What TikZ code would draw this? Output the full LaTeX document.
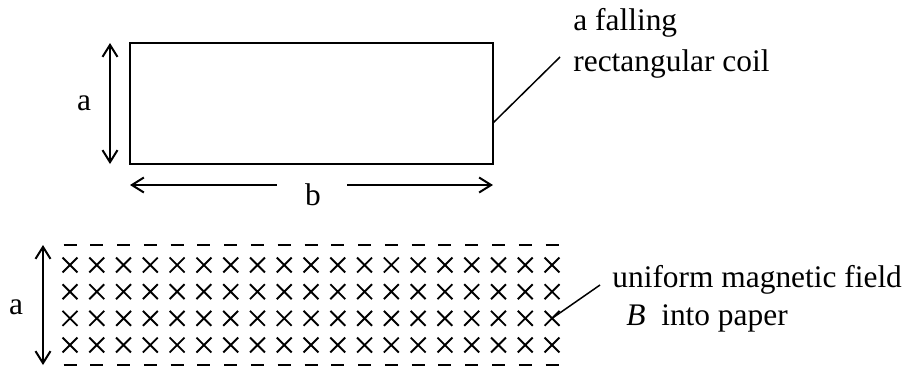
\documentclass[tikz,border=0pt]{standalone}
\usepackage{fontspec}
\setmainfont{Liberation Serif}
\usetikzlibrary{arrows.meta,shapes.misc}

\tikzset{
  txt/.style={font=\fontsize{15.7}{20.5}\selectfont, inner sep=0pt},
  barb/.tip={Straight Barb[length=6pt,width=7.5pt]},
  dimarrow/.style={line width=1pt},
  leader/.style={line width=0.75pt},
  fieldx/.style={cross out, draw, minimum size=6.5pt, inner sep=0pt, line width=0.95pt},
  fielddash/.style={line width=1pt}
}

\begin{document}
\begin{tikzpicture}[x=0.5pt,y=-0.5pt]
    	\useasboundingbox (0,0) rectangle (904,366);
    	% the coil
    	\node[draw, line width=1pt, inner sep=0pt, minimum width=181.5pt, minimum height=60.5pt] (coil) at (311.5,103.5) {};
    	\coordinate (aTop) at (110,43);
    	\coordinate (aBot) at (110,164);
    	\draw[dimarrow, barb-barb] (aTop) -- (aBot);
    	\node[txt] (aCoil) at (84,103) {a};
    	
    	\coordinate (bLeft) at (130,185);
    	\coordinate (bLeftEnd) at (277,185);
    	\coordinate (bRightEnd) at (347,185);
    	\coordinate (bRight) at (493,185);
    	\draw[dimarrow, barb-] (bLeft) -- (bLeftEnd);
    	\draw[dimarrow, -barb] (bRightEnd) -- (bRight);
    	\node[txt, anchor=base] (bCoil) at (313,205) {b};
    	
    	\coordinate (coilHit) at (493,123);
    	\coordinate (coilEnd) at (560,57);
    	\draw[leader] (coilHit) -- (coilEnd);
    	\node[txt, anchor=base west] (coilTxtA) at (573,30) {a falling};
    	\node[txt, anchor=base west] (coilTxtB) at (573,71) {rectangular coil};
    	
    	% the field
    	\foreach \c in {1,...,19}{
    		\foreach \r in {1,...,4}{
    			\node[fieldx] (x-\c-\r) at ({70+26.78*(\c-1)},{265+26.67*(\r-1)}) {};
    		}
    		\draw[fielddash] ({63.5+26.78*(\c-1)},245) -- ++(13,0);
    		\draw[fielddash] ({63.5+26.78*(\c-1)},365) -- ++(13,0);
    	}
    	\coordinate (fTop) at (43,245);
    	\coordinate (fBot) at (43,365);
    	\draw[dimarrow, barb-barb] (fTop) -- (fBot);
    	\node[txt] (aField) at (16,307) {a};
    	
    	\coordinate (fieldEnd) at (600,285);
    	\draw[leader] (x-19-3.center) -- (fieldEnd);
    	\node[txt, anchor=base west] (fieldTxtA) at (612,287) {uniform magnetic field};
    	\node[txt, anchor=base west] (fieldTxtB) at (626,325) {\textit{B}\ \ into paper};
\end{tikzpicture}
\end{document}
